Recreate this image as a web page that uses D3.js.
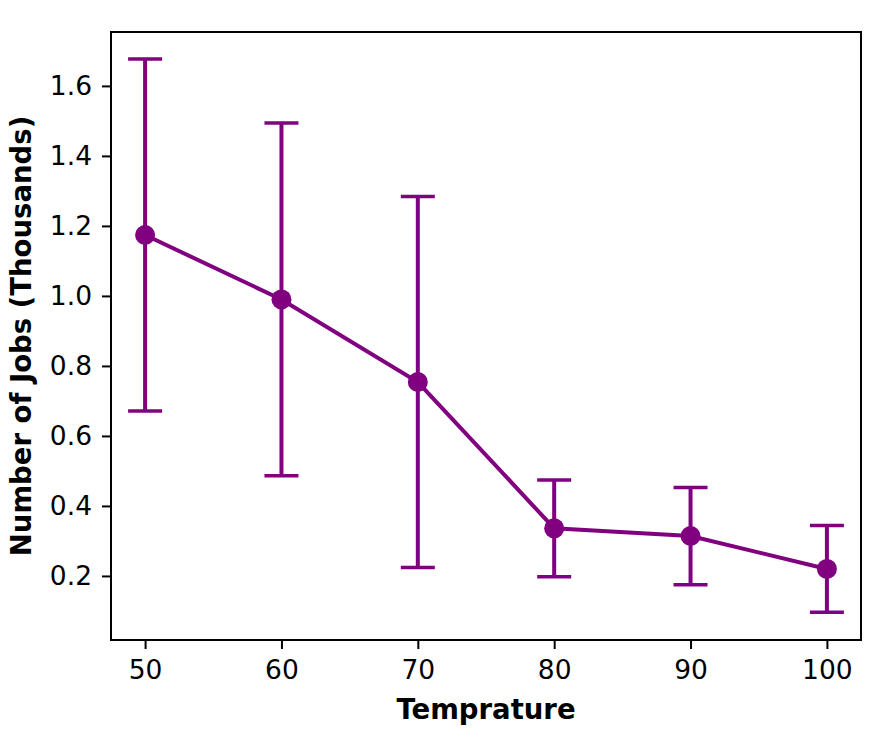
<!DOCTYPE html>
<html>
<head>
<meta charset="utf-8">
<script src="https://cdn.jsdelivr.net/npm/d3@7"></script>
<style>
  body { margin: 0; background: #fff; }
  text { font-family: "DejaVu Sans", sans-serif; }
</style>
</head>
<body>
<svg id="chart" width="890" height="740"></svg>
<script>
// data
var temps = [50, 60, 70, 80, 90, 100];
var jobs = [1.174, 0.990, 0.754, 0.336, 0.314, 0.220];
var jobErr = [0.503, 0.504, 0.530, 0.138, 0.139, 0.124];
var xTicks = [50, 60, 70, 80, 90, 100];
var yTicks = [0.2, 0.4, 0.6, 0.8, 1.0, 1.2, 1.4, 1.6];

var margin = {top: 32, right: 29, bottom: 100, left: 111},
  width = 890 - margin.left - margin.right,
  height = 740 - margin.top - margin.bottom;

var color = "#800080";

var svg = d3.select("#chart");
var g = svg.append("g")
  .attr("transform", "translate(" + margin.left + "," + margin.top + ")");

var x = d3.scaleLinear().domain([47.5, 102.5]).range([0, width]);
var y = d3.scaleLinear().domain([0.017, 1.754]).range([height, 0]);

var xaxis = d3.axisBottom(x).tickValues(xTicks).tickSize(9).tickPadding(11)
  .tickFormat(d3.format("d"));
var yaxis = d3.axisLeft(y).tickValues(yTicks).tickSize(9).tickPadding(10)
  .tickFormat(d3.format(".1f"));

g.append("g")
  .attr("transform", "translate(0," + height + ")")
  .call(xaxis)
  .call(function(s) { s.select(".domain").remove(); });

g.append("g")
  .call(yaxis)
  .call(function(s) { s.select(".domain").remove(); });

g.selectAll(".tick line").attr("stroke", "#000").attr("stroke-width", 2);
g.selectAll(".tick text").attr("font-size", 26.5).attr("fill", "#000")
  .style("font-family", "DejaVu Sans, sans-serif");

var pts = temps.map(function(t, i) {
  return {t: t, v: jobs[i], e: jobErr[i]};
});

// error bars
var eb = g.append("g").selectAll("g").data(pts).enter().append("g");
eb.append("line")
  .attr("x1", function(d) { return x(d.t); })
  .attr("x2", function(d) { return x(d.t); })
  .attr("y1", function(d) { return y(d.v - d.e); })
  .attr("y2", function(d) { return y(d.v + d.e); })
  .attr("stroke", color).attr("stroke-width", 4);
[-1, 1].forEach(function(sgn) {
  eb.append("line")
    .attr("x1", function(d) { return x(d.t) - 17; })
    .attr("x2", function(d) { return x(d.t) + 17; })
    .attr("y1", function(d) { return y(d.v + sgn * d.e); })
    .attr("y2", function(d) { return y(d.v + sgn * d.e); })
    .attr("stroke", color).attr("stroke-width", 3.5);
});

var line = d3.line()
  .x(function(d) { return x(d.t); })
  .y(function(d) { return y(d.v); });

g.append("path")
  .datum(pts)
  .attr("d", line)
  .attr("fill", "none")
  .attr("stroke", color)
  .attr("stroke-width", 4);

g.selectAll(".dot").data(pts).enter().append("circle")
  .attr("cx", function(d) { return x(d.t); })
  .attr("cy", function(d) { return y(d.v); })
  .attr("r", 10)
  .attr("fill", color);

// frame
g.append("rect")
  .attr("width", width).attr("height", height)
  .attr("fill", "none").attr("stroke", "#000").attr("stroke-width", 2);

svg.append("text")
  .attr("x", margin.left + width / 2).attr("y", 719)
  .attr("text-anchor", "middle")
  .attr("font-size", 27.5).attr("font-weight", "bold")
  .text("Temprature");

svg.append("text")
  .attr("transform", "translate(31," + (margin.top + height / 2) + ") rotate(-90)")
  .attr("text-anchor", "middle")
  .attr("font-size", 27.5).attr("font-weight", "bold")
  .text("Number of Jobs (Thousands)");
</script>
</body>
</html>
